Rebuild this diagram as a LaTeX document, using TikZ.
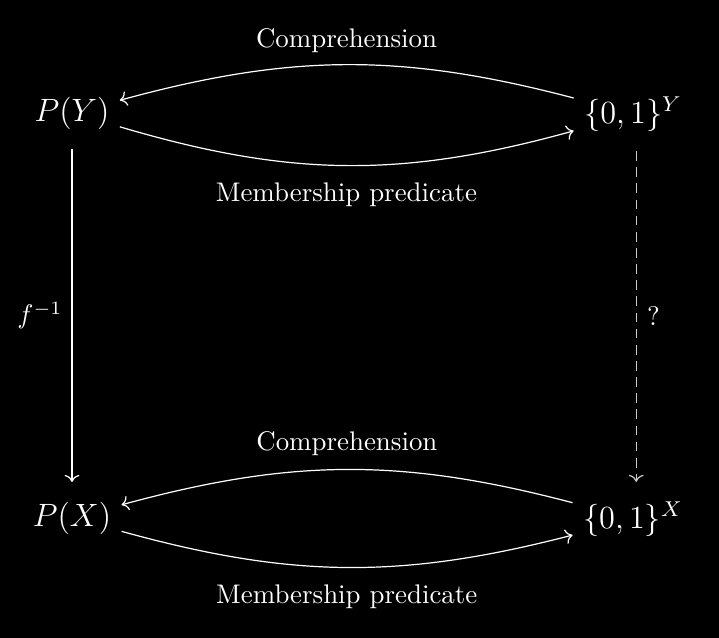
\documentclass[tikz,border=0pt]{standalone}
\usetikzlibrary{arrows.meta}
\begin{document}
\begin{tikzpicture}[x=0.3717pt,y=-0.3717pt,
  obj/.style={text=white,inner sep=3.7pt,font=\large},
  lbl/.style={text=white,font=\normalsize},
  arr/.style={draw=white,line width=0.45pt,-{To[length=2.6pt,width=5.5pt]}},
  darr/.style={draw=white!80!black,line width=0.45pt,dash pattern=on 3.6pt off 2.4pt,-{To[length=2.6pt,width=5.5pt]}}]
\fill[black] (0,0) rectangle (719,638);
\useasboundingbox (0,0) rectangle (719,638);
\node[obj] (PY) at (72,113) {$P(Y)$};
\node[obj] (BY) at (633,114) {$\{0,1\}^Y$};
\node[obj] (PX) at (72,518) {$P(X)$};
\node[obj] (BX) at (633,519) {$\{0,1\}^X$};
\draw[arr] (BY) to[bend right=15] node[lbl,above=1pt] (c1) {Comprehension} (PY);
\draw[arr] (PY) to[bend right=16] node[lbl,below=3pt] (m1) {Membership predicate} (BY);
\draw[arr] (BX) to[bend right=15] node[lbl,above=1.5pt] (c2) {Comprehension} (PX);
\draw[arr] (PX) to[bend right=15] node[lbl,below=3pt] (m2) {Membership predicate} (BX);
\draw[arr,shorten <=3.5pt,shorten >=3.5pt] (PY) -- node[lbl,left=0pt] (f) {$f^{-1}$} (PX);
\draw[darr,shorten <=3.5pt,shorten >=3.5pt] ([xshift=1.2pt]BY.south) -- node[lbl,right=0.5pt] (q) {?} ([xshift=1.2pt]BX.north);
\end{tikzpicture}
\end{document}
